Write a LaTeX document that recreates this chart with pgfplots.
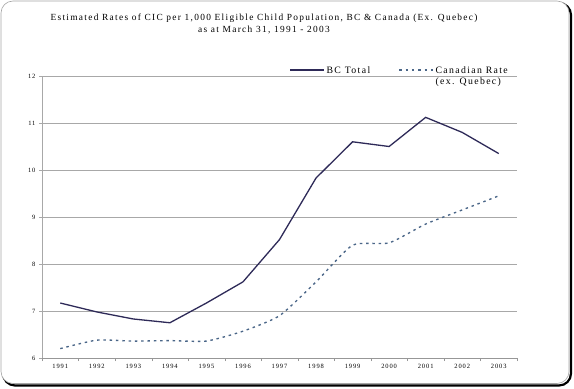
\documentclass[border=0pt]{standalone}
\usepackage{pgfplots}
\pgfplotsset{compat=1.18}
\usepackage{fontspec}
\setmainfont{Liberation Serif}
\newfontfamily\spaced[LetterSpace=14]{Liberation Serif}
\definecolor{bcline}{HTML}{2E2A58}
\definecolor{canline}{HTML}{4A6688}
\definecolor{gridc}{HTML}{A8A8A8}
\begin{document}
\begin{tikzpicture}[x=1bp,y=1bp]
\path[use as bounding box] (0,0) rectangle (574,388);
\draw[black, line width=2.2bp, rounded corners=12bp] (3,2.5) rectangle (571,385);
\draw[gray!70, fill=white, line width=0.6bp, rounded corners=12bp] (1,4.5) rectangle (569,387);
\node[font=\spaced\fontsize{9.4}{11.5}\selectfont, align=center] at (264,364) {Estimated Rates of CIC per 1,000 Eligible Child Population, BC \& Canada (Ex. Quebec)\\as at March 31, 1991 - 2003};
\begin{axis}[
  at={(42bp,30bp)}, anchor=south west,
  scale only axis, width=475bp, height=282bp,
  xmin=-0.5, xmax=12.5, ymin=6, ymax=12,
  axis lines=left, axis line style={gridc, -},
  separate axis lines,
  x axis line style={gridc!90!black},
  xtick={0,...,12},
  xticklabels={1991,1992,1993,1994,1995,1996,1997,1998,1999,2000,2001,2002,2003},
  minor xtick={-0.5,0.5,...,12.5},
  major x tick style={draw=none},
  minor tick length=3bp,
  tick align=outside,
  minor x tick style={gridc!90!black},
  ytick={6,...,12},
  ymajorgrids, grid style={gridc, line width=0.7bp},
  major y tick style={gridc}, major tick length=3bp,
  tick label style={font=\spaced\fontsize{6.5}{7}\selectfont},
  /pgf/number format/assume math mode=true,
  xticklabel style={yshift=0bp},
  legend style={draw=none, fill=none, at={(0.515,1.047)}, anchor=north west,
    font=\spaced\fontsize{9.8}{11}\selectfont, column sep=0bp,
    /tikz/every even column/.append style={column sep=27bp},
    nodes={inner xsep=1.5bp, inner ysep=1bp},
    cells={align=left, anchor=north west}},
  legend columns=2,
  legend image code/.code={\path (0bp,0bp); \draw[#1] (0bp,-4.5bp) -- (34bp,-4.5bp);},
]
\addplot[bcline, line width=1.3bp] coordinates {
(0,7.17) (1,6.98) (2,6.83) (3,6.75) (4,7.17) (5,7.62) (6,8.52) (7,9.83) (8,10.6) (9,10.5) (10,11.12) (11,10.8) (12,10.35)};
\addlegendentry{BC Total}
\addplot[canline, line width=1.35bp, dash pattern=on 2.5bp off 3.8bp, smooth, tension=0.35] coordinates {
(0,6.2) (1,6.38) (2,6.36) (3,6.37) (4,6.36) (5,6.57) (6,6.9) (7,7.62) (8,8.4) (9,8.45) (10,8.85) (11,9.15) (12,9.45)};
\addlegendentry{Canadian Rate\\(ex. Quebec)}
\end{axis}
\end{tikzpicture}
\end{document}
